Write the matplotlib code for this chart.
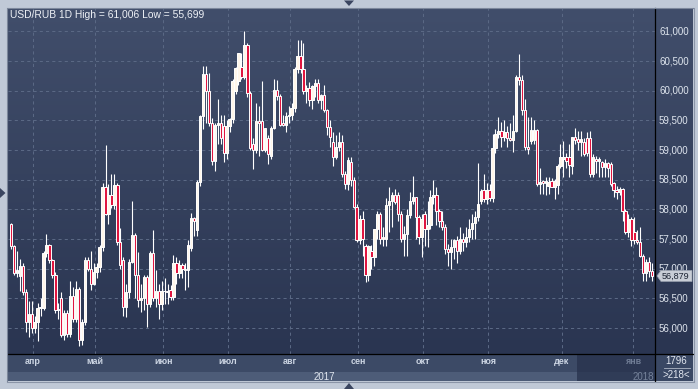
import matplotlib
matplotlib.use('Agg')
import matplotlib.pyplot as plt
import numpy as np
from matplotlib.colors import LinearSegmentedColormap
from matplotlib.patches import Rectangle, Polygon
from matplotlib.lines import Line2D

plt.rcParams['font.family'] = ['Liberation Sans', 'DejaVu Sans']

# ---------------- data (USD/RUB daily candles) ----------------
opens = [57.75, 57.38, 56.93, 56.88, 57.04, 56.61, 56.10, 56.24, 56.00, 56.10,
         56.34, 56.34, 57.27, 57.40, 57.15, 56.90, 56.30, 56.50, 55.88, 56.26,
         55.90, 56.54, 56.15, 56.66, 55.80, 56.10, 57.15, 57.00, 56.75, 56.95,
         57.03, 57.37, 58.38, 57.93, 58.25, 58.07, 58.42, 57.45, 57.14, 56.36,
         56.60, 57.12, 57.57, 56.89, 56.47, 56.50, 56.86, 56.41, 57.26, 56.50,
         56.62, 56.41, 56.62, 56.63, 56.64, 56.52, 57.09, 56.93, 57.06, 57.00,
         56.98, 57.35, 57.85, 57.65, 58.47, 59.58, 60.28, 60.00, 59.46, 58.82,
         59.43, 59.45, 59.40, 58.95, 59.40, 59.52, 60.00, 60.16, 60.40, 60.24,
         60.78, 59.96, 59.10, 59.01, 59.49, 59.49, 59.01, 59.21, 58.90, 59.38,
         60.02, 59.91, 59.45, 59.43, 59.57, 59.60, 59.71, 60.36, 60.58, 60.36,
         59.99, 60.05, 59.85, 60.08, 60.13, 59.85, 59.93, 59.67, 59.39, 59.14,
         58.88, 59.06, 59.14, 58.60, 58.43, 58.80, 58.49, 58.04, 57.48, 57.84,
         57.39, 56.89, 57.30, 57.20, 57.67, 57.93, 57.51, 57.51, 58.07, 58.15,
         58.24, 58.24, 57.93, 57.50, 57.59, 57.90, 58.15, 58.21, 57.87, 57.53,
         57.93, 57.67, 57.73, 58.21, 58.24, 57.98, 57.81, 57.70, 57.34, 57.28,
         57.36, 57.48, 57.30, 57.50, 57.45, 57.53, 57.67, 57.77, 57.87, 58.14,
         58.33, 58.17, 58.33, 58.20, 59.04, 59.27, 59.33, 59.22, 59.30, 59.20,
         59.17, 59.33, 60.23, 60.19, 59.67, 59.05, 59.16, 59.17, 59.34, 58.43,
         58.48, 58.44, 58.40, 58.48, 58.37, 58.42, 58.74, 58.85, 58.89, 58.89,
         58.74, 59.22, 59.19, 59.13, 59.13, 59.20, 59.21, 58.60, 58.85, 58.82,
         58.80, 58.72, 58.78, 58.77, 58.44, 58.32, 58.29, 58.35, 57.98, 57.62,
         57.84, 57.62, 57.48, 57.45, 57.22, 56.93, 57.11, 56.97]
highs = [57.77, 57.40, 57.30, 57.17, 57.10, 56.66, 56.46, 56.46, 56.20, 56.43,
         56.50, 57.30, 57.59, 57.42, 57.16, 56.95, 56.43, 56.60, 56.30, 56.30,
         56.80, 56.70, 56.80, 56.70, 56.15, 57.20, 57.20, 57.30, 57.10, 57.10,
         57.40, 58.45, 59.08, 58.43, 58.60, 58.60, 58.45, 57.68, 57.20, 56.75,
         57.17, 58.14, 57.60, 57.29, 56.75, 56.90, 56.90, 57.30, 57.66, 56.98,
         56.75, 56.80, 56.85, 56.75, 56.72, 57.23, 57.20, 57.15, 57.10, 57.10,
         57.48, 57.94, 57.88, 58.50, 59.60, 60.42, 60.42, 60.30, 59.55, 59.45,
         59.87, 59.60, 59.60, 59.50, 59.55, 60.20, 60.40, 60.64, 60.64, 61.006,
         60.80, 60.00, 59.20, 59.80, 59.74, 60.16, 59.38, 59.25, 59.40, 60.20,
         60.18, 59.95, 59.60, 59.65, 59.75, 59.80, 60.40, 60.86, 60.86, 60.80,
         60.10, 60.15, 60.10, 60.20, 60.20, 59.95, 60.10, 59.70, 59.50, 59.30,
         59.25, 59.30, 59.25, 58.65, 58.88, 58.88, 58.55, 58.10, 57.90, 57.98,
         57.42, 57.40, 57.40, 57.67, 57.98, 57.95, 57.70, 58.20, 58.38, 58.30,
         58.35, 58.29, 57.98, 57.72, 58.01, 58.30, 58.57, 58.21, 57.90, 57.93,
         57.98, 58.15, 58.32, 58.49, 58.38, 58.00, 57.98, 57.75, 57.42, 57.50,
         57.50, 57.55, 57.70, 57.60, 57.70, 57.84, 57.92, 57.98, 58.78, 58.35,
         58.60, 58.45, 58.43, 59.27, 59.35, 59.56, 59.47, 59.50, 59.40, 59.45,
         59.59, 60.26, 60.62, 60.26, 59.87, 59.56, 59.56, 59.50, 59.36, 58.70,
         58.50, 58.55, 58.55, 58.53, 58.52, 58.76, 59.10, 59.16, 58.95, 59.10,
         59.22, 59.38, 59.33, 59.33, 59.20, 59.30, 59.32, 58.94, 58.90, 58.88,
         58.82, 58.85, 58.80, 58.80, 58.46, 58.40, 58.38, 58.36, 58.00, 57.93,
         57.87, 57.87, 57.65, 57.70, 57.25, 57.17, 57.20, 57.10]
lows = [57.34, 56.90, 56.86, 56.62, 56.55, 55.93, 55.85, 55.92, 55.92, 55.78,
        56.20, 56.30, 57.20, 57.10, 56.85, 56.26, 56.16, 55.85, 55.80, 55.85,
        55.85, 56.10, 56.10, 55.699, 55.72, 56.05, 56.97, 56.65, 56.72, 56.85,
        56.95, 57.30, 57.90, 57.76, 58.03, 58.00, 57.40, 57.00, 56.21, 56.18,
        56.50, 57.10, 56.50, 56.36, 56.27, 56.30, 56.01, 56.35, 56.45, 56.36,
        56.15, 56.30, 56.40, 56.40, 56.48, 56.48, 56.75, 56.85, 56.85, 56.65,
        56.70, 57.30, 57.55, 57.55, 58.40, 59.35, 59.46, 59.40, 58.75, 58.64,
        59.10, 59.10, 58.80, 58.85, 59.30, 59.45, 59.95, 60.10, 60.20, 60.20,
        59.90, 59.00, 58.68, 58.95, 58.90, 58.98, 58.96, 58.77, 58.85, 59.35,
        59.85, 59.40, 59.40, 59.30, 59.45, 59.50, 59.65, 60.30, 60.30, 59.95,
        59.80, 59.75, 59.70, 59.90, 59.80, 59.70, 59.65, 59.25, 59.06, 58.74,
        58.85, 58.99, 58.55, 58.35, 58.32, 58.40, 58.03, 57.45, 57.42, 57.22,
        56.77, 56.80, 57.00, 57.05, 57.50, 57.42, 57.39, 57.39, 57.62, 57.70,
        58.10, 57.80, 57.45, 57.22, 57.22, 57.85, 58.10, 57.50, 57.42, 57.20,
        57.39, 57.36, 57.67, 58.10, 57.73, 57.70, 57.65, 57.25, 57.05, 57.00,
        57.17, 57.10, 57.25, 57.30, 57.36, 57.45, 57.50, 57.50, 57.80, 58.10,
        58.12, 58.10, 58.14, 58.12, 58.95, 59.20, 59.05, 59.15, 59.05, 59.15,
        58.96, 59.30, 60.10, 59.60, 59.00, 58.93, 59.10, 59.10, 58.40, 58.26,
        58.26, 58.24, 58.26, 58.37, 58.17, 58.26, 58.70, 58.54, 58.70, 58.55,
        58.60, 59.10, 59.00, 58.90, 58.90, 58.90, 58.55, 58.55, 58.62, 58.55,
        58.54, 58.55, 58.55, 58.40, 58.21, 58.18, 58.25, 57.81, 57.59, 57.53,
        57.39, 57.42, 57.42, 57.20, 56.80, 56.80, 56.86, 56.80]
closes = [57.38, 56.93, 56.98, 57.04, 56.61, 56.10, 56.24, 56.00, 56.10, 56.34,
          56.36, 57.27, 57.40, 57.15, 56.90, 56.30, 56.33, 55.88, 56.26, 55.90,
          56.54, 56.15, 56.66, 55.80, 56.10, 57.15, 57.00, 56.75, 56.95, 57.03,
          57.37, 58.38, 57.93, 58.25, 58.07, 58.42, 57.45, 57.06, 56.36, 56.60,
          57.12, 57.57, 56.89, 56.47, 56.50, 56.86, 56.41, 57.26, 56.50, 56.62,
          56.41, 56.62, 56.63, 56.60, 56.52, 57.09, 56.93, 57.06, 56.99, 56.98,
          57.40, 57.85, 57.80, 58.47, 59.58, 60.28, 60.00, 59.46, 58.82, 59.43,
          59.45, 59.20, 58.95, 59.40, 59.52, 60.16, 60.38, 60.64, 60.24, 60.78,
          59.96, 59.04, 59.00, 59.49, 59.45, 59.01, 59.38, 58.93, 59.38, 60.02,
          59.91, 59.43, 59.43, 59.57, 59.60, 59.71, 60.36, 60.58, 60.36, 59.99,
          60.05, 59.85, 60.08, 60.13, 59.85, 59.93, 59.67, 59.39, 59.22, 58.88,
          59.06, 59.14, 58.60, 58.43, 58.83, 58.49, 58.04, 57.48, 57.84, 57.50,
          56.89, 57.39, 57.20, 57.67, 57.93, 57.51, 57.53, 58.07, 58.15, 58.24,
          58.12, 57.93, 57.50, 57.59, 57.90, 58.15, 58.21, 57.87, 57.53, 57.84,
          57.67, 57.73, 58.21, 58.24, 57.98, 57.81, 57.70, 57.34, 57.28, 57.36,
          57.48, 57.30, 57.50, 57.45, 57.53, 57.67, 57.77, 57.87, 58.10, 58.31,
          58.17, 58.33, 58.20, 59.04, 59.27, 59.33, 59.22, 59.30, 59.20, 59.17,
          59.33, 60.23, 60.19, 59.67, 59.05, 59.02, 59.34, 59.34, 58.43, 58.46,
          58.44, 58.48, 58.46, 58.37, 58.48, 58.74, 58.88, 58.89, 58.82, 58.75,
          59.22, 59.17, 59.13, 59.18, 58.94, 58.95, 58.60, 58.88, 58.82, 58.85,
          58.72, 58.78, 58.70, 58.43, 58.32, 58.29, 58.35, 57.98, 57.62, 57.84,
          57.48, 57.48, 57.45, 57.22, 56.93, 57.11, 56.97, 56.879]

month_labels = ['апр', 'май', 'июн', 'июл', 'авг', 'сен', 'окт', 'ноя', 'дек', 'янв']
month_first_bar = [8, 29, 52, 74, 95, 118, 140, 162, 187, 211]
year_labels = ['2017', '2018']
y_ticks = [56.0, 56.5, 57.0, 57.5, 58.0, 58.5, 59.0, 59.5, 60.0, 60.5, 61.0]
symbol = 'USD/RUB'
period = '1D'
total_bars = 1796
visible_bars = 218

# ---------------- layout helpers ----------------
W, H = 698, 389
fig = plt.figure(figsize=(W / 100, H / 100), dpi=100)
fig.patch.set_facecolor('#c0c9d7')


def fx(x):
    return x / W


def fy(y):
    return 1 - y / H


def prect(x0, y0, x1, y1, color, z=-1):
    fig.patches.append(Rectangle((fx(x0), fy(y1)), fx(x1) - fx(x0), fy(y0) - fy(y1),
                                 transform=fig.transFigure, facecolor=color,
                                 edgecolor='none', zorder=z))


def pline(xs, ys, color, lw=0.75, z=5):
    fig.lines.append(Line2D([fx(x) for x in xs], [fy(y) for y in ys],
                            transform=fig.transFigure, color=color, lw=lw, zorder=z))


def ptri(pts, color, z=5):
    fig.patches.append(Polygon([(fx(a), fy(b)) for a, b in pts], closed=True,
                               transform=fig.transFigure, facecolor=color,
                               edgecolor='none', zorder=z))


# gradient background for plot + price panel
bg = fig.add_axes([fx(8), fy(354), fx(693) - fx(8), fy(8) - fy(354)])
cm = LinearSegmentedColormap.from_list('bgc', ['#414e6b', '#2a3551'])
bg.imshow(np.linspace(0, 1, 256).reshape(-1, 1), aspect='auto', cmap=cm,
          extent=[0, 1, 0, 1], interpolation='bilinear')
bg.set_xlim(0, 1)
bg.set_ylim(0, 1)
bg.axis('off')
bg.set_zorder(0)

# main chart axes
ax = fig.add_axes([fx(8), fy(354), fx(655) - fx(8), fy(8) - fy(354)])
ax.set_zorder(1)
ax.patch.set_alpha(0)
n = len(closes)
ax.set_xlim(-1.02, 218.0)
ax.set_ylim(55.563, 61.396)
for s in ax.spines.values():
    s.set_visible(False)
ax.set_xticks([])
ax.set_yticks([])

grid_kw = dict(color='#5a6884', lw=0.75, ls=(0, (3, 3)), zorder=1)
xl = ax.get_xlim()
yl = ax.get_ylim()
for v in y_ticks:
    ax.plot(xl, [v, v], **grid_kw)
month_pos = [b - 0.5 for b in month_first_bar]
for p in month_pos:
    ax.plot([p, p], yl, **grid_kw)
ax.set_xlim(xl)
ax.set_ylim(yl)

# candles
bw = 0.8
for i in range(n):
    ax.plot([i, i], [lows[i], highs[i]], color='#ffffff', lw=0.8, zorder=3,
            solid_capstyle='butt')
for i in range(n):
    o, c = opens[i], closes[i]
    lo, hi = min(o, c), max(o, c)
    if hi - lo < 0.012:
        hi = lo + 0.012
    face = '#e0153f' if c < o else '#fff6ea'
    ax.add_patch(Rectangle((i - bw / 2, lo), bw, hi - lo, facecolor=face,
                           edgecolor='#ffffff', lw=0.7, zorder=4))

# price labels on the right
ytr = ax.get_yaxis_transform()
for v in y_ticks:
    ax.text(1 + 4 / 647, v, f'{v:.3f}'.replace('.', ','), transform=ytr,
            ha='left', va='center', fontsize=7, color='#dfe5ee', clip_on=False, zorder=6)

# last price marker
last = closes[-1]
hh = 5.5 * (yl[1] - yl[0]) / 346
x0 = 1 + 2 / 647
x1 = 1 + 6 / 647
x2 = 1 + 37 / 647
marker = Polygon([(x0, last), (x1, last + hh), (x2, last + hh), (x2, last - hh), (x1, last - hh)],
                 closed=True, transform=ytr, facecolor='#c8cdd6', edgecolor='#9aa2b0',
                 lw=0.5, clip_on=False, zorder=7)
ax.add_patch(marker)
ax.text(1 + 6.5 / 647, last - 0.01, f'{last:.3f}'.replace('.', ','), transform=ytr,
        ha='left', va='center', fontsize=6.5, color='#1b2333', clip_on=False, zorder=8)

# bottom time axis bands
prect(8, 354, 655, 372, '#3c4a66')
prect(8, 372, 655, 381, '#4d5c78')
prect(577, 354, 655, 381, '#2c3752')
prect(577, 372, 655, 381, '#303c57')
prect(655, 354, 693, 381, '#3a4864')

xtr = ax.get_xaxis_transform()
lab_y = -8 / 346
for p, lab in zip(month_pos, month_labels):
    col = '#6f7c94' if lab == 'янв' else '#ccd5e3'
    ax.text(p, lab_y, lab, transform=xtr, ha='center', va='center', fontsize=6.5,
            fontweight='bold', color=col, clip_on=False, zorder=6)
ax.text(106, -22.5 / 346, year_labels[0], transform=xtr, ha='center', va='center',
        fontsize=7, color='#dfe5ee', clip_on=False, zorder=6)
ax.text(217.8, -22.5 / 346, year_labels[1], transform=xtr, ha='right', va='center',
        fontsize=7, color='#75829a', clip_on=False, zorder=6)

fig.text(fx(676), fy(361), str(total_bars), ha='center', va='center', fontsize=7,
         color='#e2e7f0', zorder=6)
fig.text(fx(676), fy(375), f'>{visible_bars}<', ha='center', va='center', fontsize=7,
         color='#e2e7f0', zorder=6)
pline([664, 690], [367.5, 367.5], '#aeb7c6', lw=0.6)

# frame lines
pline([655, 655], [8, 381], '#000000', lw=0.9)
pline([8, 693], [354, 354], '#000000', lw=0.9)
pline([8, 693], [7.5, 7.5], '#7c879b', lw=0.8)
pline([7.5, 7.5], [7.5, 381], '#7c879b', lw=0.8)
pline([693.5, 693.5], [7.5, 381], '#8a94a7', lw=0.8)
pline([7.5, 693.5], [381.5, 381.5], '#8a94a7', lw=0.8)

# navigation triangles
ptri([(344, 0.5), (354, 0.5), (349, 6)], '#3a4560')
ptri([(344, 389), (354, 389), (349, 383)], '#3a4560')
ptri([(0, 188), (0, 198), (5.5, 193)], '#3a4560')

# title
title = (f'{symbol} {period} High = {max(highs):.3f} Low = {min(lows):.3f}').replace('.', ',')
ax.text(2 / 647, 1 - 7.5 / 346, title, transform=ax.transAxes, ha='left', va='center',
        fontsize=7.4, color='#eef1f6', zorder=6)

fig.savefig('out.png', dpi=100, facecolor=fig.get_facecolor())
